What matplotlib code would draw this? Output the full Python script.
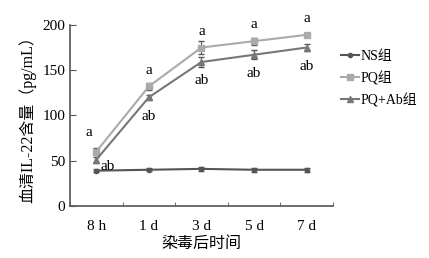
import matplotlib
matplotlib.use("Agg")
import matplotlib.pyplot as plt
from matplotlib.lines import Line2D
import numpy as np

plt.rcParams['font.family'] = ['Liberation Serif', 'Noto Sans CJK SC']

times = ["8 h", "1 d", "3 d", "5 d", "7 d"]
ns = [39, 40, 41, 40, 40]
ns_err = [2, 1.5, 2.5, 2.5, 2.5]
pq = [60, 132, 175, 182, 189]
pq_err = [4, 4, 7, 4, 2]
pqab = [51, 120, 159, 167, 175]
pqab_err = [3, 3, 6, 5, 4]
pq_lab = ["a", "a", "a", "a", "a"]
pqab_lab = ["ab", "ab", "ab", "ab", "ab"]

styles = [("NS组", "#555555", "o", 3), ("PQ组", "#aaaaaa", "s", 5), ("PQ+Ab组", "#777777", "^", 4)]

fig = plt.figure(figsize=(4.29, 2.58), dpi=100)
ax = fig.add_axes([0.163, 0.2016, 0.613, 0.702])
x = np.arange(len(times))

for (lab, c, m, ms), y, e in zip(styles, [ns, pq, pqab], [ns_err, pq_err, pqab_err]):
    ax.errorbar(x, y, yerr=e, color=c, marker=m, ms=ms, lw=1.5,
                capsize=2, elinewidth=0.8, ecolor="#555555")

for i in range(len(times)):
    if i == 0:
        ax.annotate(pq_lab[i], (x[i], pq[i]), xytext=(-5, 9), textcoords="offset points",
                    ha="center", va="bottom", fontsize=11)
        ax.annotate(pqab_lab[i], (x[i], pqab[i]), xytext=(3, -5), textcoords="offset points",
                    ha="left", va="center", fontsize=11)
    else:
        ax.annotate(pq_lab[i], (x[i], pq[i]), xytext=(0, 7), textcoords="offset points",
                    ha="center", va="bottom", fontsize=11)
        ax.annotate(pqab_lab[i], (x[i], pqab[i]), xytext=(0, -9), textcoords="offset points",
                    ha="center", va="top", fontsize=11)

ax.set_xlim(-0.5, 4.5)
ax.set_ylim(0, 200)
ax.set_yticks([0, 50, 100, 150, 200])
ax.set_xticks(x)
ax.set_xticklabels(times)
ax.set_xticks(np.arange(-0.5, 5, 1), minor=True)
ax.tick_params(axis="x", which="major", length=0, pad=10, labelsize=11)
ax.tick_params(axis="x", which="minor", length=3, direction="in", color="#555555")
ax.tick_params(axis="y", length=4, direction="in", labelsize=11, color="#555555")
for s in ["top", "right"]:
    ax.spines[s].set_visible(False)
for s in ["left", "bottom"]:
    ax.spines[s].set_color("#555555")
    ax.spines[s].set_linewidth(1.2)

ax.set_ylabel("血清IL-22含量（pg/mL）", fontsize=11.5, labelpad=4)
ax.set_xlabel("染毒后时间", fontsize=11.5, labelpad=2)

handles = [Line2D([], [], color=c, marker=m, ms=ms, lw=1.5) for _, c, m, ms in styles]
ax.legend(handles, [s[0] for s in styles], loc="upper left", bbox_to_anchor=(1.01, 0.89),
          frameon=False, fontsize=10, handlelength=1.3, handletextpad=0.1,
          labelspacing=0.55, borderaxespad=0)

fig.savefig("out.png", dpi=100)
